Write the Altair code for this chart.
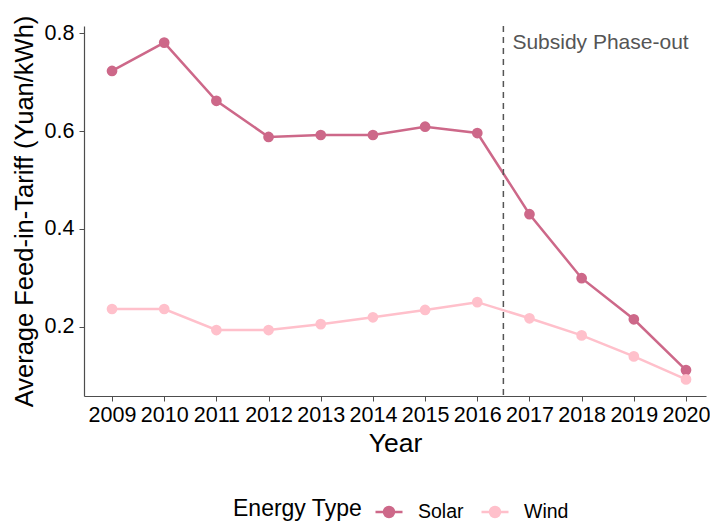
import altair as alt
import pandas as pd

years = list(range(2009, 2021))
solar = [0.723, 0.781, 0.662, 0.588, 0.592, 0.592, 0.609, 0.596, 0.430, 0.299, 0.215, 0.111]
wind = [0.236, 0.236, 0.193, 0.193, 0.205, 0.219, 0.234, 0.250, 0.217, 0.182, 0.139, 0.092]
types = ["Solar", "Wind"]
colors = ["#CD6889", "#FFC0CB"]
y_ticks = [0.2, 0.4, 0.6, 0.8]
phase_out_year = [2016.5]
annotation = ["Subsidy Phase-out"]
annotation_y = [0.781]

df = pd.DataFrame({
    "Year": years * 2,
    "Tariff": solar + wind,
    "Energy Type": ["Solar"] * len(years) + ["Wind"] * len(years),
})
rule_df = pd.DataFrame({"Year": phase_out_year})
text_df = pd.DataFrame({"Year": phase_out_year, "Tariff": annotation_y, "label": annotation})

FONT = "Liberation Sans"

x = alt.X("Year:Q",
          scale=alt.Scale(domain=[2008.463, 2020.383], nice=False, zero=False),
          axis=alt.Axis(values=years, format="d", title="Year", labelOverlap=False,
                        labelFlush=False, labelBound=False, titlePadding=5, labelPadding=3,
                        titleFontSize=26.5))
y = alt.Y("Tariff:Q",
          scale=alt.Scale(domain=[0.058, 0.815], nice=False, zero=False),
          axis=alt.Axis(values=y_ticks, format=".1f",
                        title="Average Feed-in-Tariff (Yuan/kWh)", titlePadding=7, labelPadding=5,
                        titleFontSize=25.5))

legend_path = "M-1,0H1M0.37,0A0.37,0.37,0,1,1,-0.37,0A0.37,0.37,0,1,1,0.37,0Z"

legend = alt.Legend(
    orient="none", legendX=149, legendY=471, direction="horizontal",
    titleOrient="left", title="Energy Type", titleFontSize=23, titleFontWeight="normal",
    titleColor="black", labelColor="black", labelFontSize=19.5, titleFont=FONT, labelFont=FONT,
    symbolType=legend_path, symbolSize=729, symbolStrokeWidth=2.5,
    titlePadding=11, labelOffset=14, columnPadding=12,
)
color = alt.Color("Energy Type:N", scale=alt.Scale(domain=types, range=colors), legend=legend)

lines = alt.Chart(df).mark_line(strokeWidth=2.5).encode(x=x, y=y, color=color)
points = alt.Chart(df).mark_point(filled=True, size=115, opacity=1).encode(x=x, y=y, color=color)
rule = alt.Chart(rule_df).mark_rule(strokeDash=[6, 5], color="#555555", strokeWidth=1.5).encode(x="Year:Q")
text = alt.Chart(text_df).mark_text(align="left", baseline="middle", dx=9, fontSize=21,
                                    color="#555555", font=FONT).encode(
    x="Year:Q", y="Tariff:Q", text="label:N")

chart = alt.layer(lines, rule, points, text).properties(
    width=622, height=370,
    autosize=alt.AutoSizeParams(type="none"),
    padding={"left": 76, "top": 18, "right": 4, "bottom": 127},
).configure_view(stroke=None).configure_axis(
    grid=False, domainColor="#4d4d4d", tickColor="#4d4d4d", tickSize=5, domainWidth=1.2,
    labelFont=FONT, titleFont=FONT, labelFontSize=21.5,
    labelColor="black", titleColor="black", titleFontWeight="normal",
)

chart.save("out.html", embed_options={"renderer": "svg", "actions": False})
